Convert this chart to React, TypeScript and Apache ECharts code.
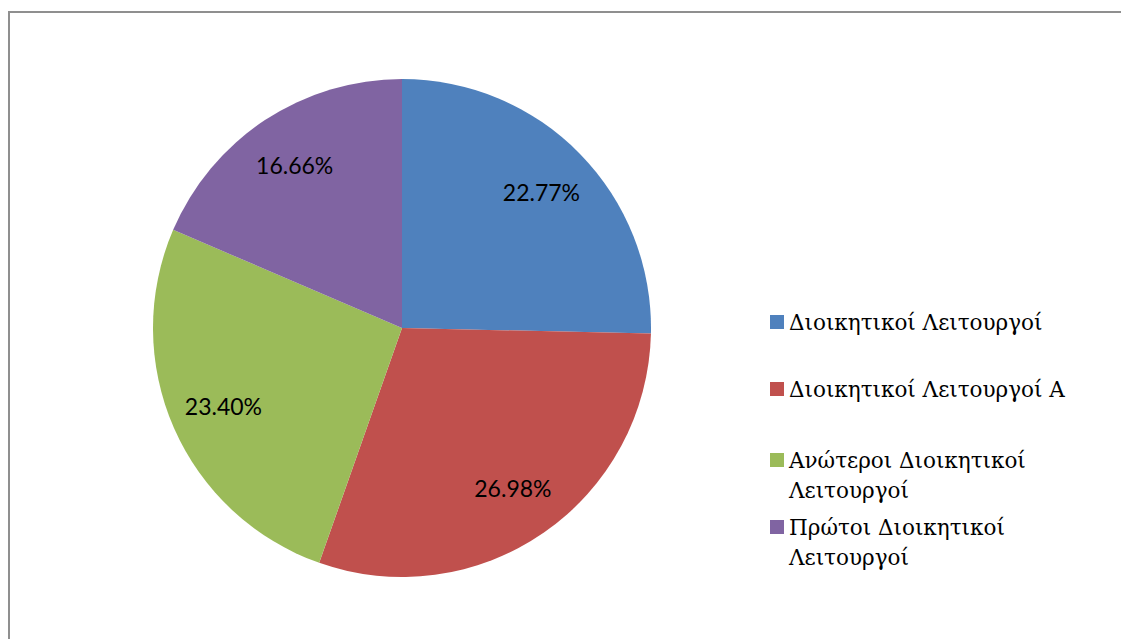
import React, { useEffect, useRef } from "react";
import * as echarts from "echarts";

const categories = [
  "Διοικητικοί Λειτουργοί",
  "Διοικητικοί Λειτουργοί Α",
  "Ανώτεροι Διοικητικοί Λειτουργοί",
  "Πρώτοι Διοικητικοί Λειτουργοί",
];
const legendLabels = [
  "Διοικητικοί Λειτουργοί",
  "Διοικητικοί Λειτουργοί Α",
  "Ανώτεροι Διοικητικοί\nΛειτουργοί",
  "Πρώτοι Διοικητικοί\nΛειτουργοί",
];
const values = [22.77, 26.98, 23.4, 16.66];
const colors = ["#4F81BD", "#C0504D", "#9BBB59", "#8064A2"];

const legendCenters = [322, 389, 460, 527];
const LH = 30;

export default function App() {
  const ref = useRef<HTMLDivElement>(null);
  useEffect(() => {
    if (!ref.current) return;
    const chart = echarts.init(ref.current, null, { renderer: "svg" });
    const data = categories.map((name, i) => ({
      name,
      value: values[i],
      itemStyle: { color: colors[i] },
    }));
    const legends = categories.map((name, i) => {
      const twoLine = legendLabels[i].includes("\n");
      return {
        orient: "vertical",
        left: 770,
        top: legendCenters[i] - (twoLine ? 45 : 15),
        padding: 0,
        itemWidth: 14,
        itemHeight: 14,
        itemGap: 0,
        icon: "rect",
        selectedMode: false,
        data: [name],
        formatter: () => (twoLine ? "\n" : "") + legendLabels[i],
        textStyle: {
          fontFamily: "DejaVu Serif",
          fontSize: 21.5,
          lineHeight: LH,
          color: "#000",
        },
      };
    });
    chart.setOption({
      animation: false,
      backgroundColor: "#fff",
      legend: legends,
      graphic: [
        {
          type: "rect",
          shape: { x: 9, y: 12, width: 1200, height: 700 },
          style: { fill: "none", stroke: "#8f8f8f", lineWidth: 2 },
          silent: true,
        },
      ],
      series: [
        {
          type: "pie",
          center: [402, 328],
          radius: [0, 249],
          startAngle: 90,
          clockwise: true,
          silent: true,
          label: { show: false },
          labelLine: { show: false },
          data,
        },
        {
          type: "pie",
          center: [402, 328],
          radius: [0, 384],
          startAngle: 90,
          clockwise: true,
          silent: true,
          itemStyle: { color: "transparent" },
          label: {
            show: true,
            position: "inside",
            formatter: (p: any) => p.value.toFixed(2) + "%",
            fontFamily: "Lato",
            fontSize: 23,
            color: "#000",
          },
          labelLine: { show: false },
          data: categories.map((name, i) => ({ name, value: values[i], itemStyle: { color: "transparent" } })),
        },
      ],
    });
    return () => chart.dispose();
  }, []);
  return (
    <div
      ref={ref}
      style={{ position: "fixed", left: 0, top: 0, width: 1121, height: 639 }}
    />
  );
}
